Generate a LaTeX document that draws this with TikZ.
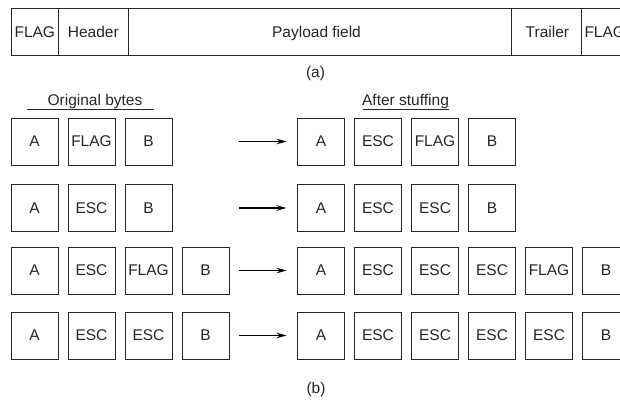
\documentclass[tikz,border=0pt]{standalone}
\usepackage{fontspec}
\setmainfont{Liberation Sans}
\usetikzlibrary{arrows.meta}
\begin{document}
\begin{tikzpicture}[x=1pt,y=-1pt,
  bytebox/.style={draw=black!85, line width=0.9pt, minimum width=47pt, minimum height=47pt, inner sep=0pt, font=\fontsize{15.5}{18}\selectfont, text=black!85},
  lbl/.style={font=\fontsize{15.5}{18}\selectfont, text=black!85, inner sep=0pt},
  frameline/.style={draw=black!85, line width=0.9pt},
  conv/.style={line width=1.7pt, -{Stealth[length=10pt,width=5.5pt]}}]
\useasboundingbox (0,0) rectangle (620,402);
\clip (0,0) rectangle (620,402);

% (a) frame
\draw[frameline] (630,8.3) -- (11.3,8.3) -- (11.3,55) -- (630,55);
\foreach \x in {58.3,128.3,511.7,581} \draw[frameline] (\x,8.3) -- (\x,55);
\node[lbl, anchor=base] (fflag1) at (34.8,37.3) {FLAG};
\node[lbl, anchor=base] (fhead) at (93.3,37.3) {Header};
\node[lbl, anchor=base] (fpay) at (316.5,37.3) {Payload field};
\node[lbl, anchor=base] (ftrail) at (547.4,37.3) {Trailer};
\node[lbl, anchor=base west] (fflag2) at (584.3,37.3) {FLAG};
\node[lbl] (capa) at (315.5,73) {(a)};

% headings
\node[lbl, anchor=base] (orig) at (95,105.6) {Original bytes};
\coordinate (ou1) at (27,109.5);
\coordinate (ou2) at (154,109.5);
\draw[frameline] (ou1) -- (ou2);
\node[lbl, anchor=base] (after) at (405.5,105.6) {After stuffing};
\coordinate (au1) at (362.5,109.5);
\coordinate (au2) at (448.5,109.5);
\draw[frameline] (au1) -- (au2);

% row 1
\foreach \t [count=\i] in {A,FLAG,B} \node[bytebox] (La\i) at ({34.5+57*(\i-1)},141.5) {\t};
\foreach \t [count=\i] in {A,ESC,FLAG,B} \node[bytebox] (Ra\i) at ({321+57*(\i-1)},141.5) {\t};
\coordinate (sa) at (239,141.5);
\draw[conv] (sa) -- ([xshift=-10.5pt]Ra1.west);

% row 2
\foreach \t [count=\i] in {A,ESC,B} \node[bytebox] (Lb\i) at ({34.5+57*(\i-1)},208) {\t};
\foreach \t [count=\i] in {A,ESC,ESC,B} \node[bytebox] (Rb\i) at ({321+57*(\i-1)},208) {\t};
\coordinate (sb) at (239,208);
\draw[conv] (sb) -- ([xshift=-10.5pt]Rb1.west);

% row 3
\foreach \t [count=\i] in {A,ESC,FLAG,B} \node[bytebox] (Lc\i) at ({34.5+57*(\i-1)},270.5) {\t};
\foreach \t [count=\i] in {A,ESC,ESC,ESC,FLAG,B} \node[bytebox] (Rc\i) at ({321+57*(\i-1)},270.5) {\t};
\coordinate (sc) at (239,270.5);
\draw[conv] (sc) -- ([xshift=-10.5pt]Rc1.west);

% row 4
\foreach \t [count=\i] in {A,ESC,ESC,B} \node[bytebox] (Ld\i) at ({34.5+57*(\i-1)},335.5) {\t};
\foreach \t [count=\i] in {A,ESC,ESC,ESC,ESC,B} \node[bytebox] (Rd\i) at ({321+57*(\i-1)},335.5) {\t};
\coordinate (sd) at (239,335.5);
\draw[conv] (sd) -- ([xshift=-10.5pt]Rd1.west);

\node[lbl] (capb) at (316,389) {(b)};
\end{tikzpicture}
\end{document}
